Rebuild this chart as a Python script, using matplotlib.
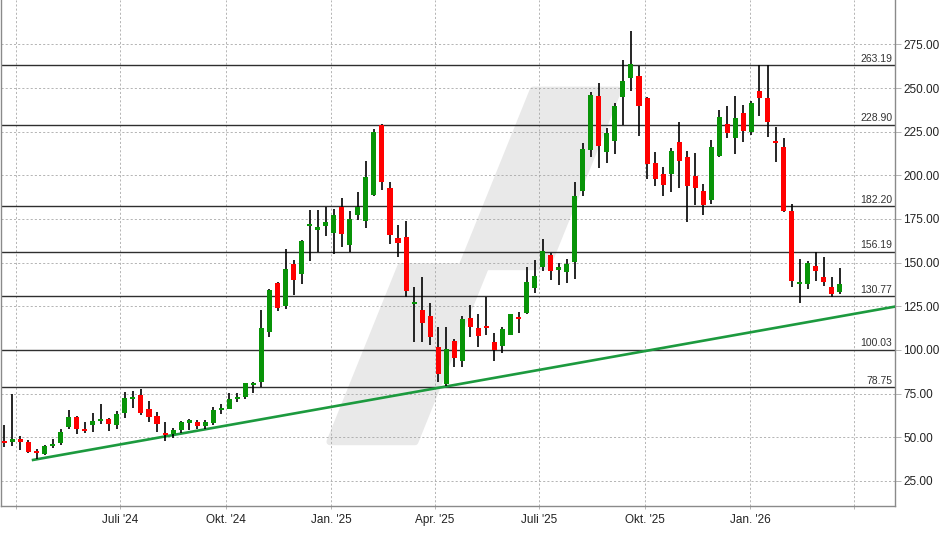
import numpy as np
import pandas as pd
import matplotlib
matplotlib.use('Agg')
import matplotlib.pyplot as plt
import matplotlib.dates as mdates
from matplotlib.patches import Polygon
from matplotlib.transforms import blended_transform_factory

plt.rcParams['font.family'] = ['Liberation Sans', 'DejaVu Sans']

# ── weekly candles (Fridays) ──
start_week = '2024-03-22'
opens = [47.5, 47.0, 48.5, 47.5, 41.8, 40.4, 45.2, 46.9, 55.7, 61.6,
         54.7, 57.0, 59.3, 60.6, 57.0, 64.1, 72.1, 74.2, 66.2, 62.2,
         52.6, 51.7, 54.2, 58.4, 58.9, 56.6, 58.4, 65.6, 66.2, 71.7,
         73.2, 80.1, 81.8, 110.4, 138.3, 125.3, 149.1, 143.6, 170.9, 168.8,
         170.9, 166.9, 181.6, 160.0, 177.2, 173.9, 188.6, 228.7, 192.6, 164.2,
         164.6, 126.4, 122.8, 119.4, 101.7, 80.5, 105.1, 93.8, 118.2, 112.7,
         113.7, 104.5, 102.4, 108.7, 118.8, 121.3, 135.6, 147.7, 154.5, 145.9,
         144.6, 150.3, 190.9, 214.5, 245.3, 213.4, 219.7, 244.9, 255.7, 256.7,
         244.3, 206.8, 201.0, 200.8, 218.9, 210.4, 199.7, 190.9, 186.0, 211.0,
         229.2, 221.2, 235.5, 224.7, 248.1, 244.1, 219.7, 216.1, 179.5, 137.9,
         137.9, 148.0, 141.7, 136.0, 133.1]
highs = [57.0, 74.6, 50.7, 48.5, 43.1, 45.6, 49.0, 54.7, 65.6, 62.2,
         58.8, 63.7, 69.2, 60.9, 65.2, 76.1, 76.7, 77.6, 70.8, 64.6,
         58.9, 55.5, 59.3, 60.3, 59.9, 59.9, 67.5, 68.9, 75.2, 75.2,
         81.2, 81.8, 122.8, 134.8, 138.8, 157.7, 151.4, 162.9, 180.0, 180.0,
         181.6, 180.6, 187.1, 179.6, 190.6, 208.3, 226.4, 229.6, 196.1, 171.5,
         173.9, 136.2, 141.5, 127.0, 113.3, 113.3, 106.4, 119.6, 125.5, 120.5,
         130.1, 109.5, 113.3, 120.8, 121.7, 147.7, 151.4, 163.8, 155.6, 149.9,
         152.0, 196.3, 218.5, 247.7, 252.8, 227.3, 241.4, 265.8, 282.4, 262.6,
         244.8, 213.4, 204.8, 215.7, 230.4, 213.8, 212.8, 194.9, 220.1, 237.2,
         239.5, 245.4, 240.1, 242.4, 263.0, 263.0, 227.6, 221.6, 183.5, 152.0,
         151.0, 156.0, 153.1, 141.7, 146.9]
lows = [44.3, 45.0, 42.7, 40.8, 37.4, 40.0, 44.0, 45.8, 54.7, 51.9,
        52.6, 53.0, 57.4, 53.6, 54.7, 61.2, 66.9, 62.8, 58.9, 53.2,
        48.0, 49.8, 52.6, 54.2, 54.7, 54.5, 57.0, 63.2, 66.0, 70.4,
        71.9, 75.5, 78.6, 107.5, 122.3, 123.4, 131.4, 137.9, 151.0, 155.8,
        165.2, 154.9, 159.0, 155.8, 174.3, 169.6, 188.0, 191.5, 160.6, 153.3,
        130.4, 104.7, 104.7, 102.8, 81.5, 79.5, 90.4, 90.0, 107.5, 101.8,
        108.5, 93.8, 98.4, 108.4, 109.8, 120.5, 132.4, 145.3, 140.0, 137.1,
        138.1, 140.7, 188.2, 210.5, 204.2, 207.1, 212.0, 228.7, 248.3, 222.5,
        197.8, 193.9, 188.2, 190.6, 192.8, 173.0, 182.9, 177.2, 183.5, 210.2,
        221.6, 212.0, 218.9, 223.1, 233.8, 222.0, 207.7, 179.1, 136.2, 127.0,
        135.0, 139.6, 136.7, 130.3, 132.0]
closes = [46.5, 49.0, 47.5, 41.8, 40.8, 45.0, 46.2, 53.0, 61.6, 54.6,
          53.6, 59.3, 60.5, 57.4, 63.3, 72.7, 73.2, 63.7, 61.8, 57.4,
          51.5, 54.2, 58.8, 59.3, 56.6, 58.9, 65.6, 66.9, 71.9, 72.7,
          80.9, 81.2, 112.5, 134.3, 124.1, 146.3, 140.2, 162.3, 172.0, 170.3,
          173.2, 177.2, 166.3, 174.9, 181.6, 199.2, 224.8, 196.2, 165.7, 161.3,
          133.7, 127.4, 115.6, 107.5, 86.2, 100.5, 95.5, 117.7, 113.3, 108.0,
          112.7, 99.9, 112.0, 120.5, 117.9, 139.0, 142.3, 156.6, 145.3, 147.4,
          149.3, 188.2, 214.9, 245.8, 216.8, 224.5, 239.5, 253.9, 263.7, 239.7,
          206.4, 198.0, 194.5, 213.8, 208.2, 193.9, 192.8, 182.9, 216.1, 233.3,
          224.3, 232.6, 225.2, 241.2, 244.3, 230.5, 218.5, 179.5, 139.6, 139.0,
          149.7, 145.3, 139.0, 132.2, 137.7]

# support / resistance levels and trendline
levels = [263.19, 228.90, 182.20, 156.19, 130.77, 100.03, 78.75]
trend_dates = ['2024-04-16', '2026-05-07']
trend_vals = [37.0, 124.8]

# axis ticks
y_ticks = [25, 50, 75, 100, 125, 150, 175, 200, 225, 250, 275]
x_tick_dates = ['2024-04-01', '2024-07-01', '2024-10-01', '2025-01-01', '2025-04-01',
                '2025-07-01', '2025-10-01', '2026-01-01', '2026-04-01']
x_tick_labels = ['', "Juli '24", "Okt. '24", "Jan. '25", "Apr. '25",
                 "Juli '25", "Okt. '25", "Jan. '26", '']

# ═══════════════════════════════
# PLOT
# ═══════════════════════════════
o = np.array(opens); h = np.array(highs); l = np.array(lows); c = np.array(closes)
dates = pd.date_range(start_week, periods=len(o), freq='7D')
xd = mdates.date2num(dates)

fig = plt.figure(figsize=(9.48, 5.34), dpi=100)
ax = fig.add_axes([0.001, 0.0524, 0.943, 0.9476])

GREEN = '#089408'; RED = '#ff0000'

# watermark logo (axes fraction)
wm1 = [(0.3680, 0.127), (0.4631, 0.127), (0.5422, 0.473), (0.4471, 0.473)]
wm2 = [(0.5156, 0.473), (0.6107, 0.473), (0.6905, 0.822), (0.5954, 0.822)]
for pts in (wm1, wm2):
    ax.add_patch(Polygon(pts, closed=True, transform=ax.transAxes, facecolor='#e9e9e9',
                         edgecolor='#e9e9e9', lw=5, joinstyle='round', zorder=0.1))

# levels
for lv in levels:
    ax.axhline(lv, color='#2f2f2f', lw=1.0, zorder=2)
    ax.text(0.997, lv + 0.8, f'{lv:.2f}', transform=blended_transform_factory(ax.transAxes, ax.transData),
            ha='right', va='bottom', fontsize=7.5, color='#333333', zorder=3)

# trendline
ax.plot(mdates.date2num(pd.to_datetime(trend_dates)), trend_vals, color='#1c9a3e', lw=1.9, zorder=3)

# candles
up = c >= o
cols = np.where(up, GREEN, RED)
ax.vlines(xd, l, h, color='black', lw=1.2, zorder=4)
body_lo = np.minimum(o, c)
body_h = np.maximum(np.abs(c - o), 1.2)
ax.bar(xd, body_h, bottom=body_lo, width=4.4, color=cols, lw=0, zorder=5)

# axes
ax.set_xlim(mdates.date2num(pd.Timestamp('2024-03-19')), mdates.date2num(pd.Timestamp('2026-05-07')))
ax.set_ylim(10.6, 300.4)
ax.set_yticks(y_ticks)
ax.set_yticklabels([f'{v:.2f}' for v in y_ticks])
ax.set_xticks(mdates.date2num(pd.to_datetime(x_tick_dates)))
ax.set_xticklabels(x_tick_labels)
ax.yaxis.tick_right()
ax.tick_params(axis='y', length=4, width=0.6, color='#aaaaaa', labelsize=8.5, labelcolor='#222222', pad=2)
ax.tick_params(axis='x', length=2, width=0.6, color='#aaaaaa', labelsize=8.5, labelcolor='#222222', pad=4)
ax.grid(True, color='#a8a8a8', lw=0.6, linestyle=(0, (2.5, 2.5)))
ax.set_axisbelow(True)
for s in ['left', 'bottom', 'right']:
    ax.spines[s].set_color('#8a8a8a'); ax.spines[s].set_linewidth(1.0)
ax.spines['top'].set_visible(False)

fig.savefig('out.png', dpi=100)
